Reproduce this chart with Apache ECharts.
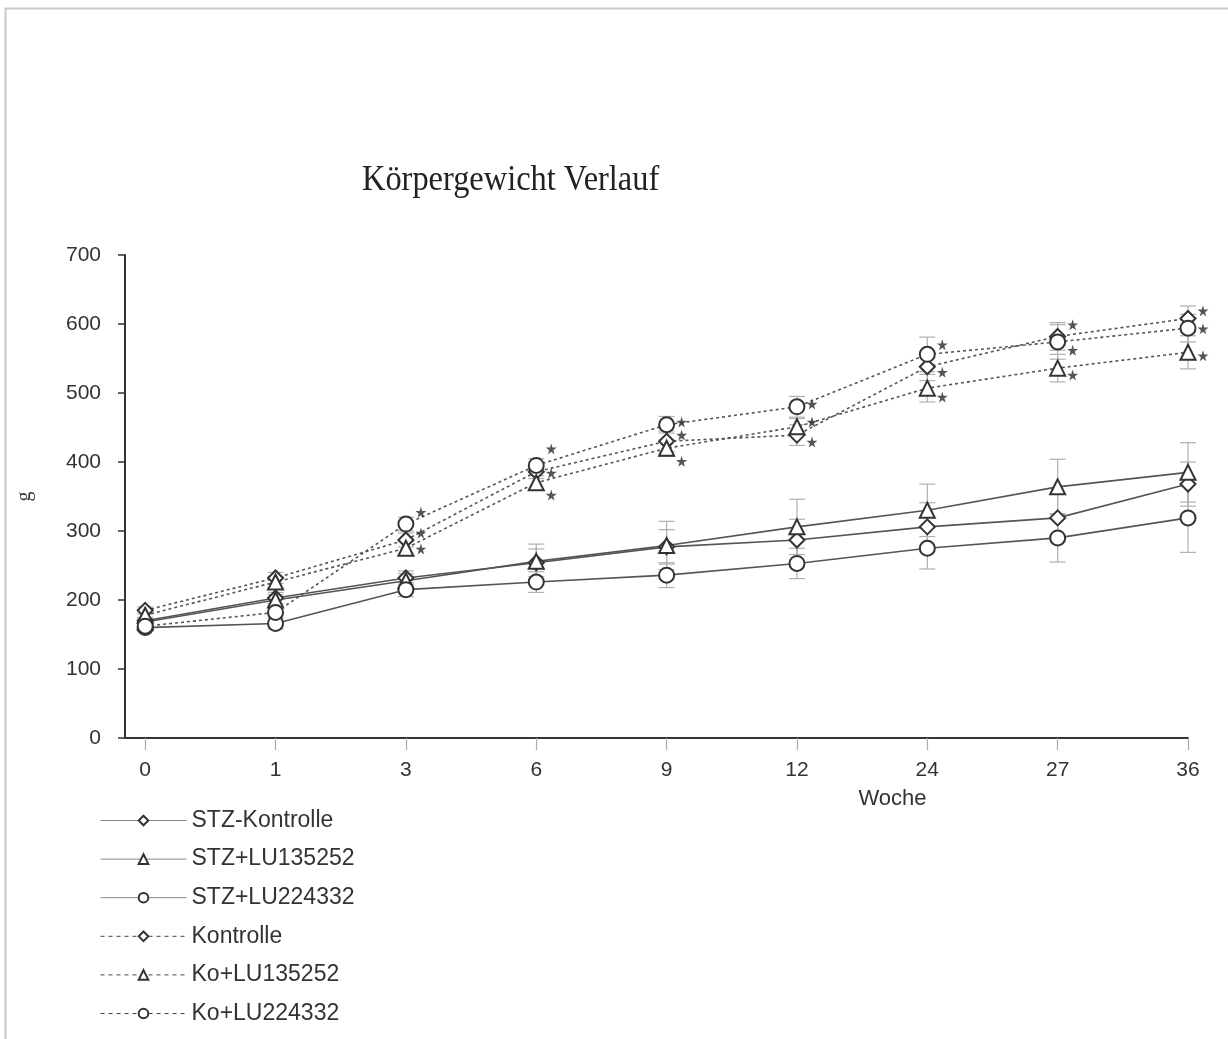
<!DOCTYPE html>
<html>
<head>
<meta charset="utf-8">
<script src="https://cdn.jsdelivr.net/npm/echarts@6/dist/echarts.min.js"></script>
<style>html,body{margin:0;padding:0;background:#fff;}#c{width:1228px;height:1039px;}</style>
</head>
<body>
<div id="c"></div>
<script>
// ---- data ----
var weeks = ['0', '1', '3', '6', '9', '12', '24', '27', '36'];
var yTicks = [0, 100, 200, 300, 400, 500, 600, 700];

var stzKontrolle   = [170, 203, 232, 254, 277, 287, 306, 319, 368];
var stzLU135252    = [168, 200, 228, 256, 279, 306, 330, 364, 385];
var stzLU224332    = [160, 166, 215, 226, 236, 253, 275, 290, 319];
var kontrolle      = [185, 232, 287, 386, 430, 439, 538, 582, 608];
var koLU135252     = [178, 226, 275, 370, 420, 451, 507, 536, 559];
var koLU224332     = [162, 182, 310, 395, 454, 480, 556, 574, 594];

var sdStzKontrolle = [5, 8, 10, 20, 25, 30, 35, 35, 32];
var sdStzLU135252  = [5, 8, 10, 25, 35, 40, 38, 40, 43];
var sdStzLU224332  = [5, 8, 10, 15, 18, 22, 30, 35, 50];
var sdKontrolle    = [5, 8, 10, 10, 15, 15, 20, 20, 18];
var sdKoLU135252   = [5, 8, 10, 10, 12, 12, 20, 20, 24];
var sdKoLU224332   = [5, 8, 10, 10, 12, 15, 25, 25, 20];

// significance stars (index of week, y-value)
var starIdx   = [2, 3, 4, 5, 6, 7, 8];
var starsTop  = [327, 419, 458, 484, 570, 599, 619];
var starsMid  = [297, 384, 439, 458, 530, 562, 593];
var starsBot  = [274, 352, 401, 429, 494, 526, 554];

var names = ['STZ-Kontrolle', 'STZ+LU135252', 'STZ+LU224332', 'Kontrolle', 'Ko+LU135252', 'Ko+LU224332'];

// ---- build ----
function pts(arr) { return arr.map(function (v, i) { return [i, v]; }); }
var allVals = [stzKontrolle, stzLU135252, stzLU224332, kontrolle, koLU135252, koLU224332];
var allSd = [sdStzKontrolle, sdStzLU135252, sdStzLU224332, sdKontrolle, sdKoLU135252, sdKoLU224332];
var symbols = ['diamond', 'triangle', 'circle', 'diamond', 'triangle', 'circle'];

var errData = [];
allVals.forEach(function (arr, s) {
  arr.forEach(function (v, i) { errData.push([i, v - allSd[s][i], v + allSd[s][i]]); });
});

var starData = [];
[starsTop, starsMid, starsBot].forEach(function (arr) {
  arr.forEach(function (v, k) { starData.push([starIdx[k], v]); });
});

var font = 'Liberation Sans';
var series = [];
series.push({
  type: 'custom', name: 'err', z: 1, silent: true,
  renderItem: function (params, api) {
    var x = api.value(0);
    var lo = api.coord([x, api.value(1)]);
    var hi = api.coord([x, api.value(2)]);
    var w = 8;
    var st = { stroke: '#b0b0b0', lineWidth: 1.2 };
    return { type: 'group', children: [
      { type: 'line', shape: { x1: lo[0], y1: lo[1], x2: hi[0], y2: hi[1] }, style: st },
      { type: 'line', shape: { x1: lo[0] - w, y1: lo[1], x2: lo[0] + w, y2: lo[1] }, style: st },
      { type: 'line', shape: { x1: hi[0] - w, y1: hi[1], x2: hi[0] + w, y2: hi[1] }, style: st }
    ]};
  },
  data: errData
});
allVals.forEach(function (arr, s) {
  var dashed = s >= 3;
  series.push({
    type: 'line', name: names[s], data: pts(arr), z: dashed ? 3 : 2,
    symbol: symbols[s], symbolSize: 15,
    showAllSymbol: true,
    lineStyle: { color: '#555', width: 1.6, type: dashed ? [3, 3] : 'solid' },
    itemStyle: { color: '#fff', borderColor: '#333', borderWidth: 2 },
    emphasis: { disabled: true },
    animation: false
  });
});
series.push({
  type: 'scatter', name: 'stars', z: 4, silent: true,
  symbol: 'path://M50,0 L61,35 L98,35 L68,57 L79,91 L50,70 L21,91 L32,57 L2,35 L39,35 Z',
  symbolSize: 11, symbolOffset: [15, 0],
  itemStyle: { color: '#2a2a2a' },
  data: starData
});

var legendData = names.map(function (n, s) {
  return { name: n, lineStyle: { width: 1, color: s >= 3 ? '#444' : '#888', type: s >= 3 ? [4, 4] : 'solid' } };
});

var chart = echarts.init(document.getElementById('c'), null, { renderer: 'canvas' });
chart.setOption({
  animation: false,
  backgroundColor: '#fff',
  grid: { left: 125, right: 40, top: 255, bottom: 301, containLabel: false },
  xAxis: {
    type: 'value', min: -0.155, max: 8,
    name: 'Woche', nameLocation: 'middle', nameGap: 50,
    nameTextStyle: { fontFamily: font, fontSize: 22, color: '#333', padding: [0, 0, 0, 472] },
    axisLine: { onZero: false, lineStyle: { color: '#333', width: 2 } },
    axisTick: { show: true, customValues: [0, 1, 2, 3, 4, 5, 6, 7, 8], length: 12, lineStyle: { color: '#aaa', width: 1.2 } },
    axisLabel: { customValues: [0, 1, 2, 3, 4, 5, 6, 7, 8], margin: 22, fontFamily: font, fontSize: 21, color: '#333',
      formatter: function (v) { return weeks[Math.round(v)]; } },
    splitLine: { show: false }
  },
  yAxis: {
    type: 'value', min: 0, max: 700, interval: 100,
    name: 'g', nameLocation: 'middle', nameGap: 90,
    nameTextStyle: { fontFamily: 'Liberation Serif', fontSize: 20, color: '#333' },
    axisLine: { show: true, onZero: false, lineStyle: { color: '#333', width: 2 } },
    axisTick: { show: true, length: 7, lineStyle: { color: '#333', width: 1.5 } },
    axisLabel: { margin: 24, fontFamily: font, fontSize: 21, color: '#333',
      formatter: function (v) { return yTicks.indexOf(v) >= 0 ? String(v) : ''; } },
    splitLine: { show: false }
  },
  legend: {
    data: legendData, orient: 'vertical', left: 95, top: 804,
    itemWidth: 86, itemHeight: 12, itemGap: 15.6,
    textStyle: { fontFamily: font, fontSize: 23, color: '#333' },
    selectedMode: false
  },
  graphic: [
    { type: 'line', shape: { x1: 5, y1: 8.5, x2: 1228, y2: 8.5 }, style: { stroke: '#c8c8c8', lineWidth: 2 } },
    { type: 'line', shape: { x1: 5.5, y1: 8, x2: 5.5, y2: 1039 }, style: { stroke: '#c8c8c8', lineWidth: 2 } },
    { type: 'text', left: 362, top: 163, scaleX: 0.9, style: { text: 'Körpergewicht Verlauf', font: '36px "Liberation Serif"', fill: '#222' } }
  ],
  series: series
});
</script>
</body>
</html>
